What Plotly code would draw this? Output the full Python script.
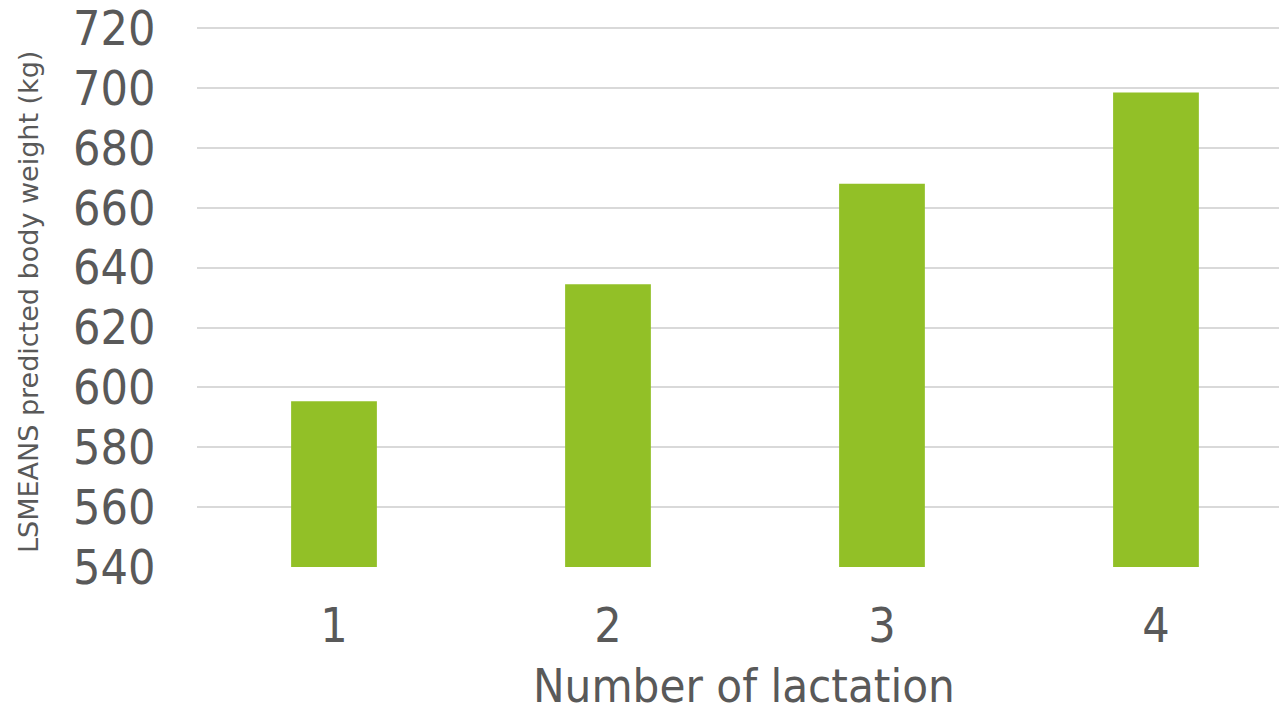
import plotly.graph_objects as go

# Lactation number vs. least-squares mean predicted body weight
lactations = ["1", "2", "3", "4"]
body_weight_kg = [595.4, 634.5, 668.0, 698.5]
y_ticks = [540, 560, 580, 600, 620, 640, 660, 680, 700, 720]

FONT = "DejaVu Sans Condensed, DejaVu Sans, sans-serif"
TEXT = "#595959"

L, R, T, B = 197, 0, 27, 146
W, H = 1279, 713
plot_w = W - L - R
plot_h = H - T - B


def px_to_paper(px, py):
    return (px - L) / plot_w, (H - B - py) / plot_h


fig = go.Figure(
    go.Bar(
        x=list(range(len(lactations))),
        y=[v - 540 for v in body_weight_kg],
        base=540,
        width=0.313,
        marker=dict(color="#92C027", line=dict(width=0)),
        hoverinfo="skip",
    )
)

xt_x, xt_y = px_to_paper(744, 685)
yt_x, yt_y = px_to_paper(28, 302)

fig.update_layout(
    width=W,
    height=H,
    margin=dict(l=L, r=R, t=T, b=B),
    paper_bgcolor="white",
    plot_bgcolor="white",
    showlegend=False,
    font=dict(family=FONT, color=TEXT),
    xaxis=dict(
        range=[-0.5, 3.449],
        tickvals=list(range(len(lactations))),
        ticktext=lactations,
        tickfont=dict(size=48, color=TEXT, family=FONT),
        ticks="outside",
        ticklen=16,
        tickcolor="rgba(0,0,0,0)",
        showgrid=False,
        zeroline=False,
        showline=False,
    ),
    yaxis=dict(
        range=[540, 720.4],
        tickvals=y_ticks,
        tickfont=dict(size=48, color=TEXT, family=FONT),
        ticks="outside",
        ticklen=31,
        tickcolor="rgba(0,0,0,0)",
        showgrid=True,
        gridcolor="#D9D9D9",
        gridwidth=2,
        zeroline=False,
        showline=False,
    ),
    annotations=[
        dict(
            text="Number of lactation",
            x=xt_x, y=xt_y, xref="paper", yref="paper",
            xanchor="center", yanchor="middle",
            showarrow=False,
            font=dict(size=47, color=TEXT, family=FONT),
        ),
        dict(
            text="LSMEANS predicted body weight (kg)",
            x=yt_x, y=yt_y, xref="paper", yref="paper",
            xanchor="center", yanchor="middle",
            textangle=-90,
            showarrow=False,
            font=dict(size=27, color=TEXT, family="DejaVu Sans, sans-serif"),
        ),
    ],
)

fig.write_html("out.html")
